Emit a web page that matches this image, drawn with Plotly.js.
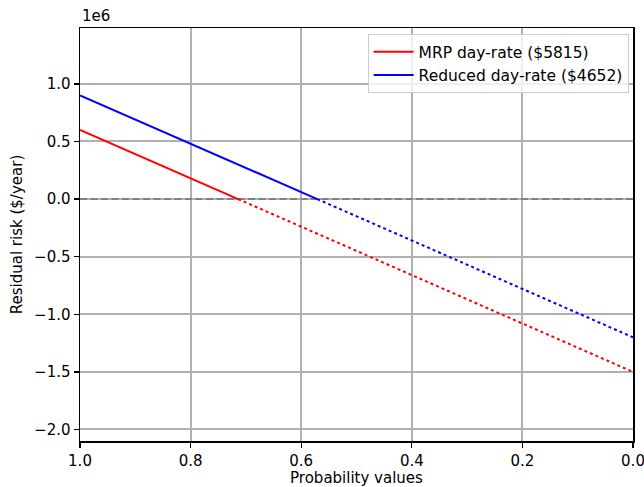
<!DOCTYPE html>
<html>
<head>
<meta charset="utf-8">
<script src="https://cdn.plot.ly/plotly-3.0.1.min.js"></script>
<style>html,body{margin:0;padding:0;background:#fff;}#chart{width:644px;height:487px;}</style>
</head>
<body>
<div id="chart"></div>
<script>
// Data
const mrpSolidP = [1.0, 0.714];
const mrpSolidR = [600000, 0];
const mrpDottedP = [0.714, 0.0];
const mrpDottedR = [0, -1500000];
const redSolidP = [1.0, 0.571];
const redSolidR = [900000, 0];
const redDottedP = [0.571, 0.0];
const redDottedR = [0, -1200000];
const zeroP = [1.0, 0.0];
const zeroR = [0, 0];
const seriesNames = ["MRP day-rate ($5815)", "Reduced day-rate ($4652)"];
const xTickVals = [1.0, 0.8, 0.6, 0.4, 0.2, 0.0];
const xTickText = ["1.0", "0.8", "0.6", "0.4", "0.2", "0.0"];
const yTickVals = [-2000000, -1500000, -1000000, -500000, 0, 500000, 1000000];
const yTickText = ["\u22122.0", "\u22121.5", "\u22121.0", "\u22120.5", "0.0", "0.5", "1.0"];

const font = "DejaVu Sans, sans-serif";
const fs = 15;
const traces = [
  {x: zeroP, y: zeroR, mode: "lines", line: {color: "#808080", width: 2, dash: "7px,3.5px"}, showlegend: false, hoverinfo: "skip"},
  {x: mrpSolidP, y: mrpSolidR, mode: "lines", name: seriesNames[0], line: {color: "#ff0000", width: 2}},
  {x: redSolidP, y: redSolidR, mode: "lines", name: seriesNames[1], line: {color: "#0000ff", width: 2}},
  {x: mrpDottedP, y: mrpDottedR, mode: "lines", showlegend: false, line: {color: "#ff0000", width: 2, dash: "3px,3px"}},
  {x: redDottedP, y: redDottedR, mode: "lines", showlegend: false, line: {color: "#0000ff", width: 2, dash: "3px,3px"}}
];

const layout = {
  width: 644, height: 487,
  margin: {l: 80, r: 11, t: 28, b: 46, pad: 0},
  paper_bgcolor: "#fff", plot_bgcolor: "#fff",
  font: {family: font, size: fs, color: "#000"},
  showlegend: true,
  legend: {
    x: 0.992, y: 0.985, xanchor: "right", yanchor: "top",
    bgcolor: "rgba(255,255,255,0.8)", bordercolor: "#cccccc", borderwidth: 1,
    font: {family: font, size: 15.5, color: "#000"},
    tracegroupgap: 0, itemwidth: 40
  },
  xaxis: {
    range: [1.0, 0.0], autorange: false,
    tickvals: xTickVals, ticktext: xTickText,
    ticklabeloverflow: "allow",
    ticks: "outside", ticklen: 5, tickwidth: 1.3, tickcolor: "#000",
    showline: true, linecolor: "#000", linewidth: 1.5, mirror: true,
    showgrid: true, gridcolor: "#b0b0b0", gridwidth: 2,
    zeroline: false,
    tickfont: {family: font, size: fs, color: "#000"},
    title: {text: "Probability values", font: {family: font, size: fs, color: "#000"}, standoff: 6}
  },
  yaxis: {
    range: [-2100000, 1485000], autorange: false,
    tickvals: yTickVals, ticktext: yTickText,
    ticks: "outside", ticklen: 5, tickwidth: 1.3, tickcolor: "#000",
    showline: true, linecolor: "#000", linewidth: 1.5, mirror: true,
    showgrid: true, gridcolor: "#b0b0b0", gridwidth: 2,
    zeroline: false,
    tickfont: {family: font, size: fs, color: "#000"},
    title: {text: "Residual risk ($/year)", font: {family: font, size: fs, color: "#000"}, standoff: 8}
  },
  annotations: [
    {text: "1e6", xref: "paper", yref: "paper", x: 0, y: 1, xanchor: "left", yanchor: "bottom", yshift: 1, showarrow: false, font: {family: font, size: fs, color: "#000"}}
  ]
};

Plotly.newPlot("chart", traces, layout, {displayModeBar: false, staticPlot: true});
</script>
</body>
</html>
